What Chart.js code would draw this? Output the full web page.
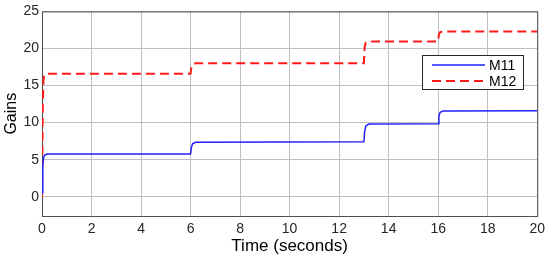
<!DOCTYPE html>
<html>
<head>
<meta charset="utf-8">
<script src="https://cdn.jsdelivr.net/npm/chart.js@4"></script>
<style>
    html, body { margin: 0; padding: 0; background: #fff; }
    #wrap { width: 550px; height: 258px; }
</style>
</head>
<body>
<div id="wrap"><canvas id="gains"></canvas></div>
<script>
// Data
const seriesNames = ['M11', 'M12'];
const timeM11 = [0, 0.03, 0.06, 0.1, 0.2, 6, 6.03, 6.08, 6.2, 13, 13.03, 13.08, 13.2, 16, 16.03, 16.08, 16.2, 20];
const gainM11 = [0.5, 4.0, 5.2, 5.6, 5.75, 5.75, 6.6, 7.15, 7.35, 7.4, 8.8, 9.55, 9.8, 9.85, 10.9, 11.4, 11.55, 11.6];
const timeM12 = [0, 0.03, 0.06, 0.1, 0.2, 6, 6.03, 6.08, 6.2, 13, 13.03, 13.08, 13.2, 16, 16.03, 16.08, 16.2, 20];
const gainM12 = [0, 12, 15.8, 16.5, 16.6, 16.6, 17.4, 17.85, 18.0, 18.0, 20.2, 20.8, 20.95, 20.95, 21.9, 22.2, 22.3, 22.3];
const xTicks = [0, 2, 4, 6, 8, 10, 12, 14, 16, 18, 20];
const yTicks = [0, 5, 10, 15, 20, 25];

const FONT = '"Liberation Sans", Arial, sans-serif';

function toPoints(xs, ys) {
    return xs.map((x, i) => ({ x: x, y: ys[i] }));
}

// Box around the plot area (MATLAB style)
const framePlugin = {
    id: 'frame',
    beforeDatasetsDraw(chart) {
        const { ctx, chartArea: a } = chart;
        ctx.save();
        ctx.strokeStyle = '#4d4d4d';
        ctx.lineWidth = 1;
        ctx.strokeRect(a.left + 0.5, a.top + 0.5, a.right - a.left, a.bottom - a.top);
        ctx.restore();
    }
};

// Legend drawn inside the axes
const boxLegend = {
    id: 'boxLegend',
    afterDatasetsDraw(chart) {
        const ctx = chart.ctx;
        const x0 = 422, y0 = 55, w = 101, h = 34;
        ctx.save();
        ctx.fillStyle = '#fff';
        ctx.fillRect(x0, y0, w, h);
        ctx.strokeStyle = '#262626';
        ctx.lineWidth = 1;
        ctx.strokeRect(x0 + 0.5, y0 + 0.5, w, h);
        chart.data.datasets.forEach((ds, i) => {
            const yy = y0 + 10 + i * 16;
            ctx.beginPath();
            ctx.strokeStyle = ds.borderColor;
            ctx.lineWidth = ds.borderWidth;
            ctx.setLineDash(ds.borderDash || []);
            ctx.moveTo(x0 + 10, yy);
            ctx.lineTo(x0 + 63, yy);
            ctx.stroke();
            ctx.setLineDash([]);
            ctx.fillStyle = '#000';
            ctx.font = '14px ' + FONT;
            ctx.textBaseline = 'middle';
            ctx.fillText(ds.label, x0 + 67, yy + 1);
        });
        ctx.restore();
    }
};

const ctx = document.getElementById('gains').getContext('2d');
new Chart(ctx, {
    type: 'line',
    data: {
        datasets: [{
            label: seriesNames[0],
            data: toPoints(timeM11, gainM11),
            borderColor: '#1f1fff',
            borderWidth: 1.5,
            pointRadius: 0,
            tension: 0
        }, {
            label: seriesNames[1],
            data: toPoints(timeM12, gainM12),
            borderColor: '#ff1a1a',
            borderWidth: 2,
            borderDash: [9, 5],
            pointRadius: 0,
            tension: 0
        }]
    },
    options: {
        responsive: true,
        maintainAspectRatio: false,
        animation: false,
        layout: { padding: { top: 9, right: 12, left: 1, bottom: 0 } },
        plugins: {
            legend: { display: false },
            tooltip: { enabled: false }
        },
        scales: {
            x: {
                type: 'linear',
                min: 0,
                max: 20,
                afterBuildTicks: (s) => { s.ticks = xTicks.map(v => ({ value: v })); },
                afterFit: (s) => { s.height = 42; },
                grid: { color: '#c0c0c0', lineWidth: 1, drawTicks: false },
                border: { display: false },
                ticks: {
                    padding: 5,
                    maxRotation: 0,
                    color: '#262626',
                    font: { family: FONT, size: 14 }
                },
                title: {
                    display: true,
                    text: 'Time (seconds)',
                    color: '#000',
                    padding: { top: 0, bottom: 1 },
                    font: { family: FONT, size: 17 }
                }
            },
            y: {
                min: -2.6,
                max: 25,
                afterBuildTicks: (s) => { s.ticks = yTicks.map(v => ({ value: v })); },
                afterFit: (s) => { s.width = 41; },
                grid: { color: '#c0c0c0', lineWidth: 1, drawTicks: false },
                border: { display: false },
                ticks: {
                    padding: 3,
                    color: '#262626',
                    font: { family: FONT, size: 14 }
                },
                title: {
                    display: true,
                    text: 'Gains',
                    color: '#000',
                    padding: { top: 1, bottom: 2 },
                    font: { family: FONT, size: 16 }
                }
            }
        }
    },
    plugins: [framePlugin, boxLegend]
});
</script>
</body>
</html>
